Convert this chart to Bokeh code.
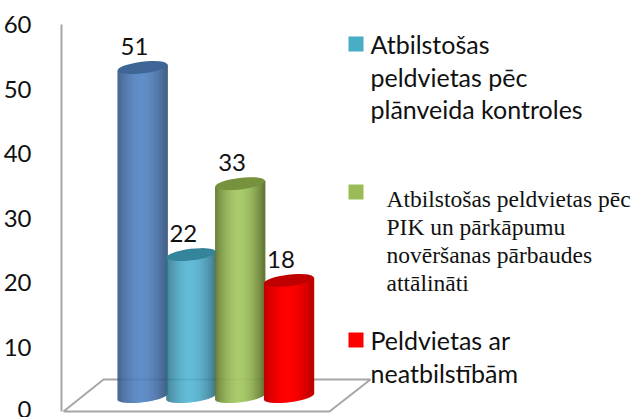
import numpy as np
from bokeh.plotting import figure
from bokeh.models import Label, BoxAnnotation, FixedTicker, Range1d
from bokeh.core.properties import value
from bokeh.embed import file_html
from bokeh.resources import INLINE

values = [51, 22, 33, 18]
value_labels = ["51", "22", "33", "18"]
body_colors = ["#5081C2", "#4DB2D2", "#A3C862", "#FF0000"]
edge_colors = ["#30507A", "#2B6A80", "#5C702B", "#BB0000"]
cap_colors = ["#3D6596", "#34859C", "#76923C", "#C00000"]
y_ticks = [0, 10, 20, 30, 40, 50, 60]
legend_colors = ["#4BACC6", "#9BBB59", "#FF0000"]
legend_lines = [
    ["Atbilstošas", "peldvietas pēc", "plānveida kontroles"],
    ["Atbilstošas peldvietas pēc", "PIK un pārkāpumu", "novēršanas pārbaudes", "attālināti"],
    ["Peldvietas ar", "neatbilstībām"],
]

W, H = 637, 417
PX_Y = 6.45          # pixels per unit
Y0 = 411             # pixel row of value 0
PX_X = 48.8          # pixels per column
X0 = 142             # pixel column of the first column centre
LEFT = 61            # window column of the vertical axis
BASE = 15 / PX_Y     # lift of column bases above the floor front
GREY = "#A6A6A6"
SANS = "Lato"
SERIF = "Liberation Serif"


def xd(px):
    return (np.asarray(px, dtype=float) - X0) / PX_X


def yd(py):
    return (Y0 - np.asarray(py, dtype=float)) / PX_Y


def mix(a, b, t):
    ca = [int(a[i:i + 2], 16) for i in (1, 3, 5)]
    cb = [int(b[i:i + 2], 16) for i in (1, 3, 5)]
    return "#%02x%02x%02x" % tuple(int(round(x + (y - x) * t)) for x, y in zip(ca, cb))


p = figure(width=W, height=H, output_backend="svg", toolbar_location=None,
           x_range=Range1d(float(xd(LEFT)), float(xd(W))),
           y_range=Range1d(float(yd(H)), float(yd(0))),
           min_border_left=LEFT, min_border_right=0, min_border_top=0, min_border_bottom=0,
           x_axis_location=None)
p.outline_line_color = None
p.xgrid.visible = False
p.ygrid.visible = False
p.background_fill_color = "white"

ax = p.yaxis[0]
ax.ticker = FixedTicker(ticks=y_ticks)
ax.bounds = (0, 60)
ax.axis_line_color = GREY
ax.axis_line_width = 2
ax.major_tick_line_color = None
ax.minor_tick_line_color = None
ax.major_label_standoff = 24
ax.major_label_text_font = SANS
ax.major_label_text_font_size = "24px"
ax.major_label_text_color = "#111111"

# floor
p.line(xd([63, 329, 370, 103, 63]), yd([411, 411, 379, 379, 411]), line_color=GREY, line_width=2)

# columns
SEMI_A, SEMI_B, SLOPE = 25.0, 5.8, 0.12
for i, v in enumerate(values):
    cx = X0 + i * PX_X
    edges = np.arange(-25, 25, 1.0)
    lefts, rights, tops, bottoms, cols = [], [], [], [], []
    for dx in edges:
        mid = dx + 0.5
        t = mid / SEMI_A
        lefts.append(float(xd(cx + dx)))
        rights.append(float(xd(cx + dx + 1.3)))
        tops.append(v + BASE + SLOPE * mid / PX_Y)
        bottoms.append(BASE + (SLOPE * mid - SEMI_B * np.sqrt(max(0, 1 - t * t))) / PX_Y)
        shade = min(1, abs(t + 0.05) ** 1.8)
        cols.append(mix(body_colors[i], edge_colors[i], shade))
    p.quad(left=lefts, right=rights, top=tops, bottom=bottoms,
           fill_color=cols, line_color=None)
    p.ellipse(x=[float(i)], y=[v + BASE], width=2 * SEMI_A, height=2 * SEMI_B,
              width_units="screen", height_units="screen", angle=SLOPE,
              fill_color=cap_colors[i], line_color=None)

# value labels
p.text(x=list(range(len(values))), y=[v + BASE for v in values], text=value_labels,
       text_font=value(SANS), text_font_size="24px", text_color="#111111",
       text_align="center", text_baseline="middle", x_offset=-8, y_offset=-21)


def add_label(px, py, text, font, size):
    p.add_layout(Label(x=px - LEFT, y=H - py, x_units="screen", y_units="screen",
                       text=text, text_font=font, text_font_size=size, text_color="#111111",
                       text_align="left", text_baseline="middle"))


def add_square(py, color):
    p.add_layout(BoxAnnotation(left=348 - LEFT, right=363 - LEFT,
                               top=H - py, bottom=H - py - 15,
                               left_units="screen", right_units="screen",
                               top_units="screen", bottom_units="screen",
                               fill_color=color, fill_alpha=1, line_color=None))


add_square(36, legend_colors[0])
add_square(184, legend_colors[1])
add_square(332, legend_colors[2])

for line, py in zip(legend_lines[0], [43, 76, 108]):
    add_label(370, py, line, SANS, "25px")
for line, py in zip(legend_lines[1], [198, 226, 254, 282]):
    add_label(386, py, line, SERIF, "23.5px")
for line, py in zip(legend_lines[2], [339, 372]):
    add_label(370, py, line, SANS, "25px")

open("out.html", "w").write(file_html(p, INLINE))
